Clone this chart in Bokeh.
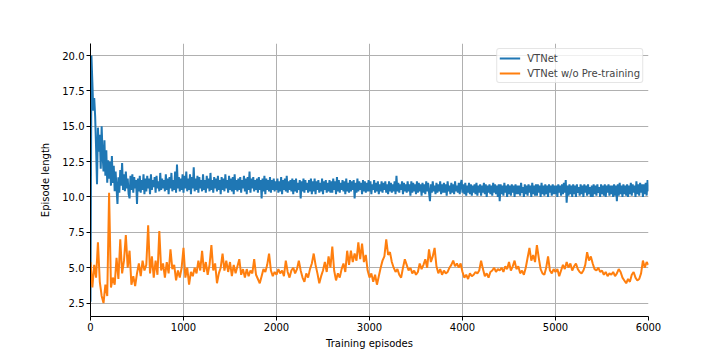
from bokeh.plotting import figure
from bokeh.models import Range1d, FixedTicker, Legend, LegendItem
from bokeh.embed import file_html
from bokeh.resources import INLINE

# VTNet, one value every 10 episodes
vtnet = [
    2.6, 20.0, 18.1, 16.1, 17.0, 15.7, 13.5, 10.9, 14.9, 13.2,
    14.4, 12.0, 15.0, 13.0, 11.8, 14.0, 11.5, 13.3, 11.0, 12.6,
    11.3, 12.5, 10.8, 12.9, 11.0, 12.2, 10.4, 11.8, 10.6, 9.5,
    11.4, 10.3, 11.9, 10.8, 12.4, 10.5, 11.6, 10.4, 11.8, 10.6,
    11.3, 10.2, 9.9, 11.5, 10.5, 11.6, 10.3, 11.4, 10.6, 11.2,
    9.5, 11.3, 10.4, 11.5, 10.3, 11.2, 10.5, 11.6, 10.2, 11.3,
    10.4, 11.5, 10.6, 11.3, 10.2, 11.6, 10.5, 11.2, 10.7, 11.4, 10.3, 11.5, 10.6, 11.1, 10.4, 11.7, 10.5, 11.3, 10.6, 11.2,
    10.4, 11.6, 10.5, 11.3, 10.2, 11.4, 10.6, 11.7, 10.4, 11.2, 10.5, 11.8, 10.3, 12.3, 10.6, 11.4, 10.4, 11.3, 10.5, 11.6,
    10.3, 11.5, 10.6, 11.8, 10.4, 11.3, 10.5, 11.6, 10.2, 11.4, 10.6, 12.1, 10.4, 11.3, 10.5, 11.5, 10.3, 11.4, 10.6, 11.2,
    10.4, 11.6, 10.5, 11.2, 10.3, 11.5, 10.6, 11.3, 10.4, 11.7, 10.5, 11.2, 10.3, 11.4, 10.6, 11.3, 10.4, 11.5, 10.5, 11.2,
    10.2, 11.4, 10.5, 11.3, 10.4, 11.6, 10.6, 11.2, 10.3, 11.5, 10.5, 11.3, 10.4, 11.4, 10.2, 11.6, 10.5, 11.2, 10.4, 11.3,
    10.5, 11.4, 10.3, 11.2, 10.6, 11.5, 10.4, 11.3, 10.2, 11.4, 10.5, 11.8, 10.3, 11.3, 10.6, 11.4, 10.4, 11.2, 10.5, 11.3,
    10.3, 11.4, 10.5, 11.2, 9.9, 11.3, 10.4, 11.5, 10.2, 11.3, 10.5, 11.2, 10.4, 11.4, 10.3, 11.2, 10.5, 11.3, 10.4, 11.1,
    10.5, 11.3, 10.3, 11.1, 10.4, 11.4, 10.2, 11.2, 10.5, 11.3, 10.4, 11.5, 10.3, 11.1, 10.5, 11.2, 10.4, 11.3, 10.2, 11.2,
    10.4, 11.3, 10.3, 11.0, 10.5, 11.2, 9.9, 11.1, 10.4, 11.3, 10.3, 11.2, 10.5, 11.0, 10.3, 11.2, 10.4, 11.3, 10.2, 11.1,
    10.4, 11.3, 10.2, 11.1, 10.5, 11.2, 10.3, 11.0, 10.4, 11.3, 10.2, 11.1, 10.5, 11.2, 10.3, 11.0, 10.4, 11.2, 10.3, 11.1,
    10.3, 11.3, 10.5, 11.1, 10.2, 11.4, 10.4, 11.2, 10.3, 11.0, 10.5, 11.2, 10.4, 11.1, 10.2, 11.3, 10.4, 11.0, 10.3, 11.2,
    10.4, 11.1, 10.5, 11.2, 9.9, 11.0, 10.3, 11.3, 10.4, 11.1, 10.5, 11.0, 10.2, 11.2, 10.4, 11.1, 10.3, 11.0, 10.4, 11.2,
    10.4, 11.1, 10.2, 10.9, 10.5, 11.2, 10.3, 11.0, 10.4, 11.1, 10.2, 10.9, 10.4, 11.1, 10.3, 11.0, 10.5, 11.1, 10.3, 10.9,
    10.2, 11.1, 10.4, 11.0, 10.3, 10.9, 10.4, 11.1, 10.2, 11.5, 10.4, 11.0, 10.3, 10.9, 10.5, 11.1, 10.2, 11.0, 10.4, 10.9,
    10.3, 11.1, 10.4, 10.9, 10.1, 11.1, 10.3, 11.0, 10.4, 10.9, 10.2, 11.1, 10.3, 11.0, 10.4, 10.9, 10.1, 11.0, 10.3, 10.9,
    10.2, 11.1, 10.4, 11.0, 10.3, 9.7, 10.9, 10.3, 11.1, 10.4, 10.8, 10.2, 11.0, 10.3, 10.9, 10.4, 11.1, 10.2, 10.9, 10.3,
    11.0, 10.3, 10.9, 10.1, 11.1, 10.4, 10.8, 10.2, 11.0, 10.3, 10.9, 10.2, 11.1, 10.4, 10.8, 10.3, 11.0, 10.2, 10.9, 11.2,
    10.3, 10.9, 10.2, 11.0, 10.1, 10.8, 10.3, 11.0, 10.2, 10.9, 10.1, 10.8, 10.3, 10.9, 10.2, 11.0, 10.1, 10.8, 10.3, 10.9,
    10.1, 10.8, 10.3, 11.0, 10.2, 10.9, 10.0, 10.8, 10.3, 10.9, 10.2, 10.8, 10.1, 11.0, 10.3, 10.9, 10.2, 10.8, 10.0, 10.9,
    9.7, 10.9, 10.2, 10.8, 10.1, 11.0, 10.3, 10.8, 10.0, 10.9, 10.2, 10.8, 10.1, 10.9, 10.3, 10.8, 10.0, 10.9, 10.2, 10.8,
    10.2, 10.8, 10.1, 11.0, 10.3, 10.7, 10.0, 10.9, 10.2, 10.8, 10.1, 10.9, 10.3, 10.8, 10.0, 11.0, 10.2, 10.8, 10.1, 10.9,
    10.1, 10.9, 10.3, 10.8, 10.0, 11.0, 10.2, 10.8, 10.1, 10.9, 10.2, 10.8, 10.0, 10.9, 10.3, 10.8, 10.1, 10.9, 10.2, 10.8,
    10.2, 10.8, 10.0, 10.9, 10.3, 10.8, 10.1, 10.9, 10.2, 11.0, 10.3, 11.2, 9.6, 10.8, 10.1, 10.9, 10.2, 10.8, 10.0, 10.9,
    10.2, 10.8, 10.0, 10.9, 10.3, 10.7, 10.1, 10.9, 10.2, 10.8, 10.0, 10.9, 10.3, 10.8, 10.1, 10.9, 10.2, 10.7, 10.0, 10.8,
    10.0, 10.9, 10.2, 10.8, 10.1, 10.9, 10.3, 10.7, 10.0, 10.9, 10.2, 10.8, 10.1, 10.9, 10.0, 10.8, 10.3, 10.9, 10.1, 10.8,
    10.2, 10.8, 10.0, 10.9, 10.1, 10.8, 9.7, 10.9, 10.1, 11.0, 10.2, 10.8, 10.0, 10.9, 10.2, 10.8, 10.1, 10.9, 10.0, 10.8,
    10.2, 11.0, 10.1, 10.9, 10.3, 10.8, 10.0, 11.1, 10.2, 10.9, 10.1, 11.0, 10.3, 10.9, 10.0, 10.9, 10.2, 11.0, 10.1, 11.2,
    10.4,
]
# VTNet w/o Pre-training, one value every 20 episodes
vtnet_wo_pretrain = [
    5.4, 3.6, 5.2, 4.3, 6.8, 4.0, 3.0, 2.5, 3.8, 3.0,
    10.3, 3.6, 4.3, 3.8, 5.7, 4.2, 7.0, 4.6, 5.5, 7.3,
    5.0, 6.2, 3.8, 4.4, 3.7, 4.6, 5.3, 4.4, 5.5, 4.8,
    5.2, 8.0, 4.6, 5.8, 4.3, 5.5, 4.5, 7.6, 4.8, 5.3,
    4.3, 5.4, 4.6, 6.3, 4.9, 5.2, 4.1, 4.8, 4.3, 5.0,
    6.4, 4.3, 5.0, 3.8, 4.7, 4.4, 5.0, 4.6, 5.5, 4.8,
    6.2, 4.7, 5.4, 4.5, 5.2, 6.6, 4.8, 5.3, 3.9, 4.6,
    5.0, 6.0, 4.8, 5.5, 4.7, 5.4, 4.4, 5.2, 4.6, 5.1,
    5.6, 4.5, 4.9, 4.3, 4.9, 4.4, 4.8, 4.6, 5.6, 4.5,
    4.2, 3.9, 4.4, 4.9, 4.7, 5.2, 6.0, 4.8, 4.4, 4.7,
    4.5, 4.9, 4.6, 4.8, 4.4, 5.5, 4.7, 4.3, 4.8, 5.0,
    4.6, 4.9, 5.5, 4.8, 4.3, 4.0, 4.6, 4.3, 4.9, 5.3,
    6.0, 5.2, 4.6, 3.9, 4.4, 4.8, 5.4, 4.7, 5.8, 5.0,
    6.5, 4.8, 4.1, 4.6, 4.3, 4.9, 5.3, 4.7, 6.2, 5.2,
    6.2, 5.4, 6.0, 5.5, 6.8, 5.6, 6.7, 5.4, 5.9, 4.8,
    4.3, 4.6, 4.0, 4.5, 3.8, 4.4, 5.0, 5.5, 5.8, 7.0,
    5.9, 6.1, 5.4, 5.0, 4.7, 4.9, 4.5, 4.3, 5.0, 5.6,
    5.2, 4.8, 5.0, 4.6, 4.8, 4.5, 4.7, 5.3, 4.9, 5.2,
    5.6, 5.0, 6.3, 5.4, 5.8, 6.4, 5.1, 4.6, 4.9, 4.5,
    4.8, 4.6, 4.7, 5.0, 5.2, 5.5, 5.1, 5.3, 5.0, 5.3,
    4.7, 4.3, 4.5, 4.2, 4.6, 4.4, 4.5, 4.7, 4.6, 4.8,
    5.5, 4.9, 4.4, 4.6, 4.3, 4.7, 4.8, 5.0, 4.7, 4.9,
    4.8, 5.0, 4.7, 5.1, 4.9, 5.4, 4.8, 5.1, 5.5, 4.9,
    5.1, 4.6, 4.8, 4.5, 5.0, 5.7, 6.4, 5.5, 5.9, 5.4,
    6.6, 5.7, 4.9, 4.6, 4.5, 5.0, 5.8, 4.8, 4.6, 4.9,
    4.7, 4.9, 4.4, 4.8, 5.2, 4.9, 5.4, 5.0, 5.3, 4.8,
    5.1, 5.3, 4.9, 4.7, 4.6, 4.8, 5.2, 6.1, 5.5, 5.8,
    5.3, 4.9, 4.8, 5.0, 4.7, 4.8, 4.5, 4.7, 4.4, 4.6,
    4.5, 4.7, 4.4, 4.6, 4.9, 4.7, 4.3, 4.1, 3.9, 4.2,
    4.0, 4.5, 4.7, 4.3, 4.1, 4.2, 4.6, 5.5, 5.0, 5.4,
    5.2,
]
episodes_vtnet = [i * 10 for i in range(len(vtnet))]
episodes_wo = [i * 20 for i in range(len(vtnet_wo_pretrain))]
x_ticks = [0, 1000, 2000, 3000, 4000, 5000, 6000]
y_ticks = [2.5, 5.0, 7.5, 10.0, 12.5, 15.0, 17.5, 20.0]
y_tick_labels = ["2.5", "5.0", "7.5", "10.0", "12.5", "15.0", "17.5", "20.0"]

FONT = "DejaVu Sans"
p = figure(width=712, height=352, output_backend="svg", toolbar_location=None,
           x_range=Range1d(0, 6000), y_range=Range1d(1.55, 20.85),
           min_border_left=90, min_border_right=64, min_border_top=43, min_border_bottom=36)
p.outline_line_color = None
p.background_fill_color = "white"

for ax in (p.xaxis[0], p.yaxis[0]):
    ax.axis_line_color = "black"
    ax.axis_line_width = 1
    ax.major_tick_out = 4
    ax.major_tick_in = 0
    ax.minor_tick_line_color = None
    ax.major_label_text_font = FONT
    ax.major_label_text_font_size = "10px"
    ax.major_label_text_color = "black"
    ax.axis_label_text_font = FONT
    ax.axis_label_text_font_size = "10px"
    ax.axis_label_text_font_style = "normal"
    ax.axis_label_text_color = "black"
    ax.major_label_standoff = 2

p.xaxis[0].ticker = FixedTicker(ticks=x_ticks)
p.yaxis[0].ticker = FixedTicker(ticks=y_ticks)
p.yaxis[0].major_label_overrides = {t: l for t, l in zip(y_ticks, y_tick_labels)}
p.xaxis[0].axis_label = "Training episodes"
p.yaxis[0].axis_label = "Episode length"
p.xaxis[0].axis_label_standoff = 4
p.yaxis[0].axis_label_standoff = 8

p.xgrid.grid_line_color = "#b0b0b0"
p.ygrid.grid_line_color = "#b0b0b0"
p.xgrid.grid_line_width = 1
p.ygrid.grid_line_width = 1

r1 = p.line(episodes_vtnet, vtnet, line_color="#1f77b4", line_width=2)
r2 = p.line(episodes_wo, vtnet_wo_pretrain, line_color="#ff7f0e", line_width=2)

legend = Legend(items=[LegendItem(label="VTNet", renderers=[r1]),
                       LegendItem(label="VTNet w/o Pre-training", renderers=[r2])],
                location="top_right", margin=5, padding=2, spacing=1,
                glyph_width=21, glyph_height=14, label_standoff=7,
                label_height=14,
                label_text_font=FONT, label_text_font_size="10px",
                border_line_color="#cccccc", border_line_width=1,
                background_fill_alpha=0.8, border_radius=3)
p.add_layout(legend)

open("out.html", "w").write(file_html(p, INLINE))
